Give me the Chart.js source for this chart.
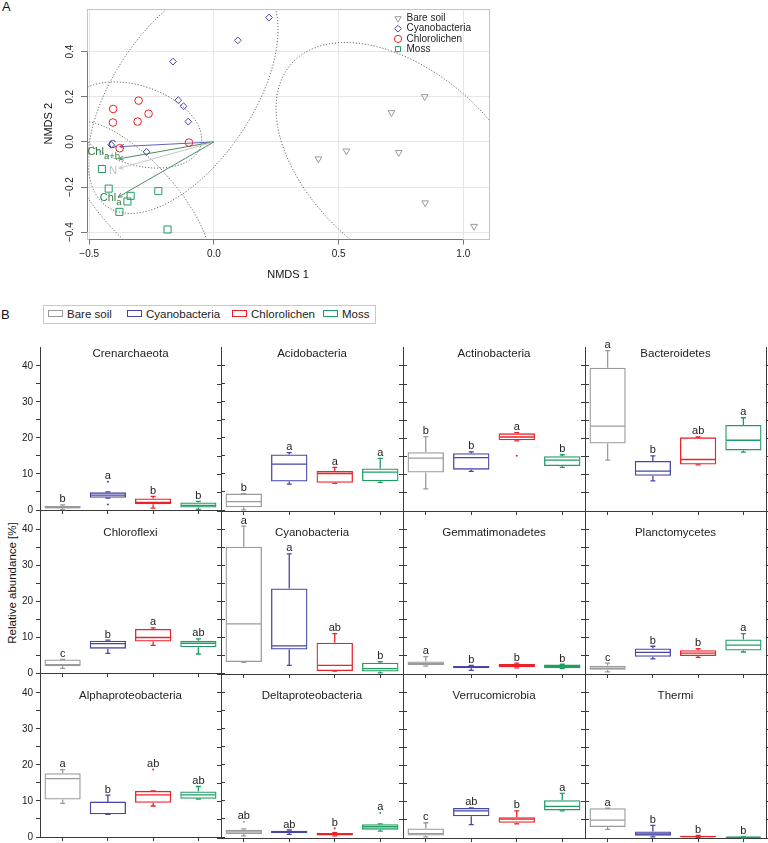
<!DOCTYPE html>
<html>
<head>
<meta charset="utf-8">
<title>NMDS ordination and relative abundance of bacterial phyla</title>
<script src="https://cdn.jsdelivr.net/npm/chart.js@4.4.1/dist/chart.umd.min.js"></script>
<style>
  body { margin: 0; background: #fff; font-family: "Liberation Sans", Arial, Helvetica, sans-serif; }
  #page { position: relative; width: 768px; height: 843px; overflow: hidden; }
  canvas { position: absolute; }
  .lbl { position: absolute; color: #111; white-space: nowrap; }
</style>
</head>
<body>
<div id="page">
  <div class="lbl" style="left:2px;top:0px;font-size:13px;line-height:13px">A</div>
  <canvas id="nmds" width="500" height="290" style="left:0;top:0"></canvas>
  <div class="lbl" style="left:1px;top:308px;font-size:13px;line-height:13px">B</div>
  <div id="legendB" style="position:absolute;left:43px;top:305px;width:331px;height:17px;border:1px solid #c8c8c8"></div>
  <div class="lbl" style="left:12px;top:583px;font-size:11.5px;transform:translate(-50%,-50%) rotate(-90deg)">Relative abundance [%]</div>
</div>
<script>
// ---------- shared ----------
const groups = ['Bare soil', 'Cyanobacteria', 'Chlorolichen', 'Moss'];
const groupColors = ['#9a9a9a', '#4646a6', '#ec2228', '#1f9d62'];

// ---------- Panel A: NMDS ordination ----------
const bareX  = [0.845, 0.712, 0.419, 0.531, 0.741, 0.847, 1.043];
const bareY  = [0.201, 0.130, -0.075, -0.040, -0.047, -0.270, -0.374];
const cyanoX = [0.221, 0.096, -0.164, -0.143, -0.122, -0.103, -0.270, -0.412];
const cyanoY = [0.551, 0.450, 0.356, 0.185, 0.158, 0.090, -0.044, -0.013];
const chloroX = [-0.404, -0.405, -0.302, -0.262, -0.306, -0.100, -0.378];
const chloroY = [0.146, 0.086, 0.183, 0.125, 0.090, -0.003, -0.028];
const mossX = [-0.449, -0.422, -0.334, -0.347, -0.379, -0.223, -0.186];
const mossY = [-0.120, -0.207, -0.239, -0.264, -0.310, -0.218, -0.388];

const xTicksA = [-0.5, 0, 0.5, 1.0];
const yTicksA = [-0.4, -0.2, 0, 0.2, 0.4];

// fitted environmental vectors (arrow tips) and their label anchors
const vecLabels = ['C', 'Chl', 'N', 'Chl'];
const vecSubs = ['', 'a+b', '', 'a'];
const vecX = [-0.378, -0.381, -0.381, -0.385];
const vecY = [-0.021, -0.075, -0.117, -0.245];
const vecLabX = [-0.407, -0.442, -0.404, -0.414];
const vecLabY = [-0.013, -0.043, -0.127, -0.247];
const vecColors = ['#6262b2', '#4a8c60', '#c6c6c6', '#4a8c60'];
const vecTextColors = ['#4646a6', '#2f7a48', '#bdbdbd', '#2f7a48'];

// group dispersion ellipses: centre and two conjugate half-axes (data units)
const ellCx = [0.765, -0.124, -0.312, -0.306];
const ellCy = [-0.102, 0.208, 0.075, -0.257];
const ellUx = [0.453, 0.303, 0.258, 0.268];
const ellUy = [-0.450, 0.496, -0.096, -0.329];
const ellVx = [0.247, -0.231, 0.050, 0.113];
const ellVy = [0.303, 0.172, 0.165, 0.113];

// ---------- Panel B: relative abundance boxplots ----------
const taxa = ['Crenarchaeota', 'Acidobacteria', 'Actinobacteria', 'Bacteroidetes',
  'Chloroflexi', 'Cyanobacteria', 'Gemmatimonadetes', 'Planctomycetes',
  'Alphaproteobacteria', 'Deltaproteobacteria', 'Verrucomicrobia', 'Thermi'];
// one row per taxon, one value per group (Bare soil, Cyanobacteria, Chlorolichen, Moss)
const whiskerLow = [
  [0.1, 3.3, 0.5, 0.2], [0.3, 7.4, 7.6, 7.9], [6.1, 10.9, 19.3, 12.0], [14.0, 8.3, 12.7, 16.2],
  [1.3, 5.5, 7.7, 5.3], [3.2, 2.4, 0.8, 0.3], [2.2, 1.0, 1.7, 1.5], [0.6, 4.2, 4.6, 6.1],
  [9.3, 6.3, 8.6, 10.5], [0.6, 1.0, 0.6, 1.9], [0.3, 3.7, 3.9, 7.5], [2.4, 0.3, 0.2, 0.05]
];
const quart1 = [
  [0.4, 3.4, 1.6, 0.7], [1.0, 8.1, 7.8, 8.2], [10.6, 11.4, 19.5, 12.4], [18.6, 9.7, 12.8, 16.7],
  [1.9, 6.8, 8.8, 7.2], [3.3, 6.8, 0.8, 0.7], [2.4, 1.6, 1.9, 1.6], [1.2, 4.8, 5.0, 6.5],
  [10.4, 6.3, 9.5, 10.6], [1.1, 1.4, 0.7, 2.3], [0.7, 6.0, 4.2, 7.6], [3.0, 0.6, 0.3, 0.1]
];
const medians = [
  [0.7, 4.1, 2.1, 1.3], [2.6, 12.9, 10.3, 10.7], [14.6, 14.7, 20.4, 14.0], [23.4, 11.0, 14.2, 19.5],
  [2.3, 8.2, 9.9, 8.3], [13.9, 7.8, 2.4, 1.5], [2.9, 1.9, 2.4, 2.1], [1.6, 6.0, 5.8, 8.0],
  [16.2, 9.6, 11.7, 11.7], [1.7, 1.7, 1.1, 3.1], [1.2, 7.5, 5.2, 8.7], [4.9, 1.1, 0.4, 0.2]
];
const quart3 = [
  [1.1, 4.9, 3.2, 2.1], [4.8, 15.6, 11.0, 11.7], [16.2, 15.9, 21.4, 15.1], [39.5, 13.8, 20.3, 23.7],
  [3.8, 9.0, 12.3, 9.0], [35.3, 23.7, 8.7, 3.1], [3.5, 2.2, 2.8, 2.6], [2.3, 7.1, 6.6, 9.6],
  [17.7, 9.8, 12.8, 12.6], [2.3, 2.0, 1.4, 3.8], [2.6, 8.3, 5.7, 10.4], [8.2, 1.8, 0.6, 0.35]
];
const whiskerHigh = [
  [1.4, 5.0, 3.8, 2.4], [4.8, 16.1, 12.0, 14.5], [20.5, 16.3, 21.6, 15.5], [44.2, 15.2, 20.4, 25.7],
  [3.8, 9.2, 12.6, 9.5], [41.0, 33.3, 11.2, 3.4], [4.8, 2.4, 3.0, 2.7], [3.0, 7.7, 7.0, 11.2],
  [18.7, 11.6, 12.8, 14.0], [2.5, 2.2, 1.5, 3.9], [4.2, 8.3, 7.5, 12.3], [8.2, 3.5, 0.7, 0.4]
];
const outliers = [
  [[], [7.8, 1.5], [], []], [[], [], [], []], [[], [], [15.2], []], [[], [], [], []],
  [[], [], [], []], [[], [], [], []], [[], [], [], []], [[], [], [], []],
  [[], [], [18.7], []], [[4.5], [], [2.7], [6.9]], [[], [], [], []], [[], [], [], []]
];
const letters = [
  ['b', 'a', 'b', 'b'], ['b', 'a', 'a', 'a'], ['b', 'b', 'a', 'b'], ['a', 'b', 'ab', 'a'],
  ['c', 'b', 'a', 'ab'], ['a', 'a', 'ab', 'b'], ['a', 'b', 'b', 'b'], ['c', 'b', 'b', 'a'],
  ['a', 'b', 'ab', 'ab'], ['ab', 'ab', 'b', 'a'], ['c', 'ab', 'b', 'a'], ['a', 'b', 'b', 'b']
];
const yTicksB = [0, 5, 10, 15, 20, 25, 30, 35, 40];
const yMaxB = 45.2;

Chart.defaults.font.family = '"Liberation Sans", Arial, Helvetica, sans-serif';
Chart.defaults.color = '#222';

const fmtA = v => (v < 0 ? '\u2212' : '') + Math.abs(v).toFixed(1);

// ---------- Panel A chart ----------
const nmdsExtras = {
  id: 'nmdsExtras',
  beforeDatasetsDraw(chart) {
    const { ctx, chartArea: a, scales: { x, y } } = chart;
    ctx.save();
    ctx.beginPath();
    ctx.rect(a.left, a.top, a.right - a.left, a.bottom - a.top);
    ctx.clip();
    // ellipses
    ctx.strokeStyle = '#5a5a5a';
    ctx.lineWidth = 0.9;
    ctx.setLineDash([1.2, 1.8]);
    for (let e = 0; e < ellCx.length; e++) {
      ctx.beginPath();
      for (let s = 0; s <= 160; s++) {
        const t = s / 160 * Math.PI * 2;
        const px = x.getPixelForValue(ellCx[e] + ellUx[e] * Math.cos(t) + ellVx[e] * Math.sin(t));
        const py = y.getPixelForValue(ellCy[e] + ellUy[e] * Math.cos(t) + ellVy[e] * Math.sin(t));
        if (s === 0) ctx.moveTo(px, py); else ctx.lineTo(px, py);
      }
      ctx.stroke();
    }
    ctx.setLineDash([]);
    // arrows
    const ox = x.getPixelForValue(0), oy = y.getPixelForValue(0);
    vecX.forEach((vx, i) => {
      const tx = x.getPixelForValue(vx), ty = y.getPixelForValue(vecY[i]);
      const ang = Math.atan2(ty - oy, tx - ox);
      ctx.strokeStyle = vecColors[i];
      ctx.lineWidth = 1;
      ctx.beginPath();
      ctx.moveTo(ox, oy);
      ctx.lineTo(tx, ty);
      ctx.moveTo(tx - 5 * Math.cos(ang - 0.45), ty - 5 * Math.sin(ang - 0.45));
      ctx.lineTo(tx, ty);
      ctx.lineTo(tx - 5 * Math.cos(ang + 0.45), ty - 5 * Math.sin(ang + 0.45));
      ctx.stroke();
    });
    ctx.restore();
  },
  afterDraw(chart) {
    const { ctx, chartArea: a, scales: { x, y } } = chart;
    ctx.save();
    // frame
    ctx.strokeStyle = '#c4c4c4';
    ctx.lineWidth = 1;
    ctx.strokeRect(Math.round(a.left) + 0.5, Math.round(a.top) + 0.5,
      Math.round(a.right - a.left), Math.round(a.bottom - a.top));
    // axis lines spanning first to last tick
    ctx.strokeStyle = '#777';
    ctx.beginPath();
    ctx.moveTo(Math.round(a.left) + 0.5, y.getPixelForValue(yTicksA[0]));
    ctx.lineTo(Math.round(a.left) + 0.5, y.getPixelForValue(yTicksA[yTicksA.length - 1]));
    ctx.moveTo(x.getPixelForValue(xTicksA[0]), Math.round(a.bottom) + 0.5);
    ctx.lineTo(x.getPixelForValue(xTicksA[xTicksA.length - 1]), Math.round(a.bottom) + 0.5);
    ctx.stroke();
    // rotated y tick labels
    ctx.fillStyle = '#222';
    ctx.font = '10px "Liberation Sans", Arial, sans-serif';
    ctx.textAlign = 'center';
    ctx.textBaseline = 'middle';
    yTicksA.forEach(v => {
      ctx.save();
      ctx.translate(a.left - 17, y.getPixelForValue(v));
      ctx.rotate(-Math.PI / 2);
      ctx.fillText(fmtA(v), 0, 0);
      ctx.restore();
    });
    // vector labels with subscripts
    vecLabels.forEach((lab, i) => {
      const cx = x.getPixelForValue(vecLabX[i]), cy = y.getPixelForValue(vecLabY[i]);
      ctx.font = '11px "Liberation Sans", Arial, sans-serif';
      const w1 = ctx.measureText(lab).width;
      ctx.font = '9.5px "Liberation Sans", Arial, sans-serif';
      const w2 = vecSubs[i] ? ctx.measureText(vecSubs[i]).width : 0;
      const sx = cx - (w1 + w2) / 2;
      ctx.fillStyle = vecTextColors[i];
      ctx.textAlign = 'left';
      ctx.font = '11px "Liberation Sans", Arial, sans-serif';
      ctx.fillText(lab, sx, cy);
      if (vecSubs[i]) {
        ctx.font = '9.5px "Liberation Sans", Arial, sans-serif';
        ctx.fillText(vecSubs[i], sx + w1, cy + 5);
      }
    });
    // legend inside the plot, top right
    chart.data.datasets.forEach((ds, i) => {
      const ly = a.top + 9.5 + i * 10.2;
      const lx = a.right - 91;
      ctx.strokeStyle = ds.pointBorderColor;
      ctx.fillStyle = 'rgba(0,0,0,0)';
      ctx.lineWidth = 1;
      Chart.helpers.drawPoint(ctx, {
        pointStyle: ds.pointStyle, radius: Math.min(ds.pointRadius, 3.6),
        rotation: ds.pointRotation || 0, borderWidth: 1
      }, lx, ly);
      ctx.fillStyle = '#222';
      ctx.font = '10px "Liberation Sans", Arial, sans-serif';
      ctx.textAlign = 'left';
      ctx.textBaseline = 'middle';
      ctx.fillText(ds.label, lx + 8.5, ly);
    });
    ctx.restore();
  }
};

const seriesX = [bareX, cyanoX, chloroX, mossX];
const seriesY = [bareY, cyanoY, chloroY, mossY];
const pointStyles = ['triangle', 'rectRot', 'circle', 'rect'];
const pointRadii = [3.9, 3.4, 3.8, 5];
const pointRotations = [180, 0, 0, 0];

new Chart(document.getElementById('nmds'), {
  type: 'scatter',
  data: {
    datasets: groups.map((g, i) => ({
      label: g,
      data: seriesX[i].map((v, j) => ({ x: v, y: seriesY[i][j] })),
      pointStyle: pointStyles[i],
      pointRadius: pointRadii[i],
      pointRotation: pointRotations[i],
      pointBorderColor: groupColors[i],
      pointBackgroundColor: 'rgba(0,0,0,0)',
      pointBorderWidth: 1
    }))
  },
  options: {
    responsive: false,
    animation: false,
    layout: { padding: { top: 9, right: 11, left: 0, bottom: 0 } },
    plugins: { legend: { display: false }, tooltip: { enabled: false } },
    scales: {
      x: {
        min: -0.509, max: 1.103,
        afterBuildTicks: s => { s.ticks = xTicksA.map(v => ({ value: v })); },
        afterFit: s => { s.height = 51.5; },
        ticks: { callback: v => fmtA(v), font: { size: 10 }, color: '#222', padding: 4, maxRotation: 0 },
        grid: { color: '#e6e6e6', tickColor: '#777', tickLength: 6 },
        border: { display: false },
        title: { display: true, text: 'NMDS 1', font: { size: 11 }, color: '#111', padding: { top: 0, bottom: 8 } }
      },
      y: {
        min: -0.428, max: 0.589,
        afterBuildTicks: s => { s.ticks = yTicksA.map(v => ({ value: v })); },
        afterFit: s => { s.width = 87; },
        ticks: { display: false },
        grid: { color: '#e6e6e6', tickColor: '#777', tickLength: 6 },
        border: { display: false },
        title: { display: true, text: 'NMDS 2', font: { size: 11 }, color: '#111', padding: { top: 42, bottom: 0 } }
      }
    }
  },
  plugins: [nmdsExtras]
});

// ---------- Panel B legend ----------
const page = document.getElementById('page');
const swatchLeft = [48, 127, 232, 323];
groups.forEach((g, i) => {
  const sw = document.createElement('div');
  sw.style.cssText = `position:absolute;left:${swatchLeft[i]}px;top:310px;width:15px;height:7px;box-sizing:border-box;border:1.2px solid ${groupColors[i]};background:#fff`;
  page.appendChild(sw);
  const tx = document.createElement('div');
  tx.className = 'lbl';
  tx.style.cssText += `left:${swatchLeft[i] + 19}px;top:306px;font-size:11.5px;line-height:16px;color:#222`;
  tx.textContent = g;
  page.appendChild(tx);
});

// ---------- Panel B boxplots ----------
const axisColor = '#3a3a3a';
const boxParts = {
  id: 'boxParts',
  afterDatasetsDraw(chart, args, opts) {
    const k = opts.k, row = Math.floor(k / 4);
    const { ctx, chartArea: a, scales: { y } } = chart;
    const meta = chart.getDatasetMeta(0);
    ctx.save();
    meta.data.forEach((bar, i) => {
      const cx = bar.x, half = bar.width / 2, cap = 2.5;
      const pm = y.getPixelForValue(medians[k][i]);
      const plo = y.getPixelForValue(whiskerLow[k][i]);
      const phi = y.getPixelForValue(whiskerHigh[k][i]);
      const p1 = y.getPixelForValue(quart1[k][i]);
      const p3 = y.getPixelForValue(quart3[k][i]);
      ctx.strokeStyle = groupColors[i];
      ctx.lineWidth = 1.3;
      ctx.beginPath();
      ctx.moveTo(cx - half + 1, pm); ctx.lineTo(cx + half - 1, pm);
      ctx.moveTo(cx, p3); ctx.lineTo(cx, phi);
      ctx.moveTo(cx - cap, phi); ctx.lineTo(cx + cap, phi);
      ctx.moveTo(cx, p1); ctx.lineTo(cx, plo);
      ctx.moveTo(cx - cap, plo); ctx.lineTo(cx + cap, plo);
      ctx.stroke();
      ctx.fillStyle = groupColors[i];
      outliers[k][i].forEach(v => {
        ctx.beginPath();
        ctx.arc(cx, y.getPixelForValue(v), 1, 0, Math.PI * 2);
        ctx.fill();
      });
      const top = Math.max(whiskerHigh[k][i], ...outliers[k][i]);
      ctx.fillStyle = '#222';
      ctx.font = '11px "Liberation Sans", Arial, sans-serif';
      ctx.textAlign = 'center';
      ctx.textBaseline = 'alphabetic';
      ctx.fillText(letters[k][i], cx, y.getPixelForValue(top) - 2.5);
    });
    ctx.fillStyle = '#222';
    ctx.font = '11.5px "Liberation Sans", Arial, sans-serif';
    ctx.textAlign = 'center';
    ctx.textBaseline = 'middle';
    ctx.fillText(taxa[k], (a.left + a.right) / 2, a.top + (row === 0 ? 6.5 : 22));
    ctx.restore();
  }
};

const colLeft = [40, 221, 403, 585], colRight = [221, 403, 585, 766];
const rowTop = [347, 511, 674], rowBottom = [511, 674, 838];
const padT = 16, padB = 8, padSide = 10;

taxa.forEach((name, k) => {
  const r = Math.floor(k / 4), c = k % 4;
  const padL = c === 0 ? 40 : padSide;
  const padR = padSide;
  const cv = document.createElement('canvas');
  cv.width = colRight[c] - colLeft[c] + padL + padR;
  cv.height = rowBottom[r] - rowTop[r] + padT + padB;
  cv.style.left = (colLeft[c] - padL) + 'px';
  cv.style.top = (rowTop[r] - padT) + 'px';
  page.appendChild(cv);
  const yAxis = (pos, w, showLabels) => ({
    position: pos, min: 0, max: yMaxB,
    afterBuildTicks: s => { s.ticks = yTicksB.map(v => ({ value: v })); },
    afterFit: s => { s.width = w; },
    ticks: { display: showLabels, callback: v => (v % 10 === 0 ? v : ''), font: { size: 10 }, color: '#222', padding: 3 },
    grid: { drawOnChartArea: false, tickLength: 4, color: axisColor },
    border: { color: axisColor }
  });
  new Chart(cv, {
    type: 'bar',
    data: {
      labels: groups,
      datasets: [{
        data: quart1[k].map((v, i) => [v, quart3[k][i]]),
        borderColor: groupColors,
        backgroundColor: 'rgba(0,0,0,0)',
        borderWidth: 1.3,
        borderSkipped: false,
        barPercentage: 0.8,
        categoryPercentage: 1
      }]
    },
    options: {
      responsive: false,
      animation: false,
      layout: { padding: { top: padT, right: 0, bottom: 0, left: 0 } },
      plugins: { legend: { display: false }, tooltip: { enabled: false }, boxParts: { k } },
      scales: {
        x: {
          ticks: { display: false },
          grid: { offset: false, drawOnChartArea: false, tickLength: 4, color: axisColor },
          border: { color: axisColor },
          afterFit: s => { s.height = padB; }
        },
        y: yAxis('left', padL, c === 0),
        y2: yAxis('right', padR, false)
      }
    },
    plugins: [boxParts]
  });
});
</script>
</body>
</html>
